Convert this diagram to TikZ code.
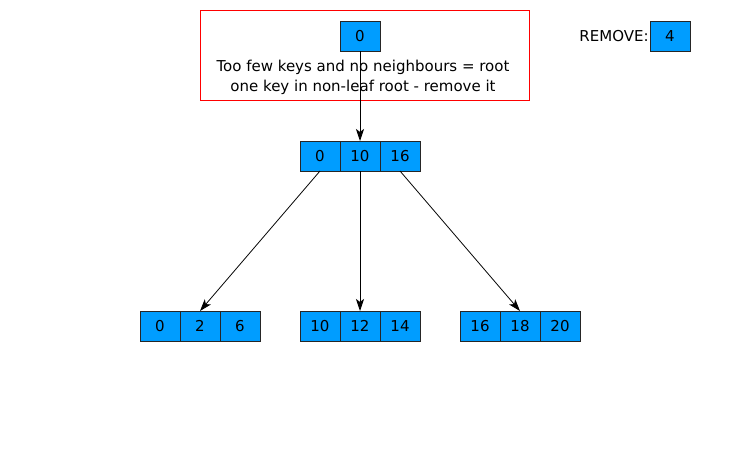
\documentclass[tikz,border=0pt]{standalone}
\usepackage{fontspec}
\setmainfont{DejaVu Sans}
\usepackage{xcolor}
\usepackage{tikz}
\usetikzlibrary{arrows.meta,positioning}

\definecolor{keyblue}{RGB}{0,157,255}

\begin{document}
\begin{tikzpicture}[x=1pt,y=-1pt,
                    line width=0.8pt,
                    key/.style={draw=black!85,fill=keyblue,
                    minimum width=40pt,minimum height=30pt,
                    inner sep=0pt,outer sep=0pt,
                    font=\fontsize{15}{18}\selectfont},
                    ptr/.style={-{Stealth[length=12pt,width=8pt,inset=3pt]},black}]
    \useasboundingbox (0,0) rectangle (745,461);
    % note frame round the old root
    \node[draw=red,line width=0.6pt,minimum width=329pt,minimum height=90pt,inner sep=0pt](frame) at (364.5,55) {};
    \node[key](r0) at (360,36) {0};
    \node[align=center,font=\fontsize{15}{20}\selectfont](msg) at (363,77)
        {Too few keys and no neighbours = root\\one key in non-leaf root - remove it};
    \node[key](rm) at (670,36) {4};
    \node[left=1pt of rm,font=\fontsize{15}{18}\selectfont,inner sep=0pt](rmlbl) {REMOVE:};
    % new root
    \node[key](m1) at (320,156) {0};
    \node[key,right=0pt of m1](m2) {10};
    \node[key,right=0pt of m2](m3) {16};
    % leaves
    \foreach \n/\x/\a/\b/\c in {la/160/0/2/6, lb/320/10/12/14, lc/480/16/18/20}{
        \node[key](\n1) at (\x,326) {\a};
        \node[key,right=0pt of \n1](\n2) {\b};
        \node[key,right=0pt of \n2](\n3) {\c};
    }
    \draw[ptr] (r0.south) -- (m2.north);
    \draw[ptr] (m1.south) -- (la2.north);
    \draw[ptr] (m2.south) -- (lb2.north);
    \draw[ptr] (m3.south) -- (lc2.north);
\end{tikzpicture}
\end{document}
